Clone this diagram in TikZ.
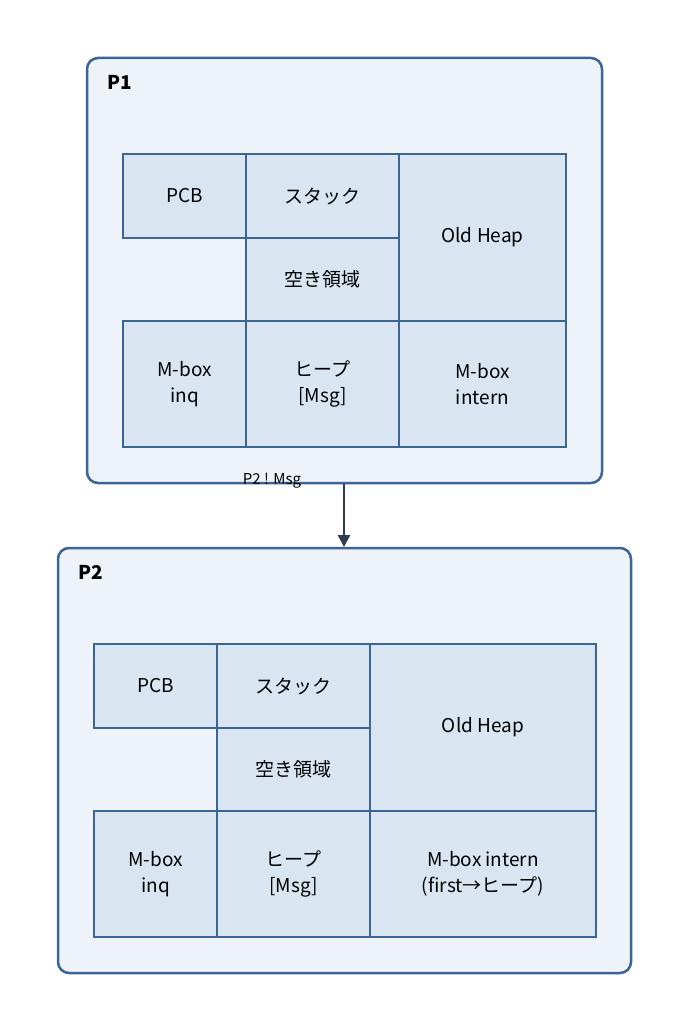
\documentclass[tikz,border=0pt]{standalone}
\usepackage{fontspec}
\setmainfont{Noto Sans CJK JP}
\usetikzlibrary{arrows.meta}
\definecolor{edge}{HTML}{3B6593}
\definecolor{outerfill}{HTML}{EEF3FA}
\definecolor{cellfill}{HTML}{D9E6F2}
\definecolor{arr}{HTML}{2E3B4E}
\tikzset{
 outer/.style={draw=edge,fill=outerfill,line width=2.5pt,rounded corners=11pt},
 cell/.style={draw=edge,fill=cellfill,line width=1.3pt},
 txt/.style={font=\fontsize{19}{26}\selectfont,align=center,text=black},
 ttl/.style={font=\fontsize{19}{22}\selectfont\bfseries,anchor=west}
}
\begin{document}
\begin{tikzpicture}[x=1pt,y=-1pt]
\useasboundingbox (0,0) rectangle (689,1032);
% P1
\draw[outer] (87,58) rectangle (602,483);
\node[ttl] (t1) at (104,82) {P1};
\def\cellbox#1#2#3#4#5#6{\draw[cell] (#2,#3) rectangle (#4,#5); \node[txt] (#1) at ({(#2+#4)/2},{(#3+#5)/2}) {#6};}
\cellbox{a1}{123}{154}{246}{238}{PCB}
\cellbox{a2}{246}{154}{399}{238}{スタック}
\cellbox{a3}{246}{238}{399}{321}{空き領域}
\cellbox{a4}{399}{154}{566}{321}{Old Heap}
\cellbox{a5}{123}{321}{246}{447}{M-box\\inq}
\cellbox{a6}{246}{321}{399}{447}{ヒープ\\{[Msg]}}
\cellbox{a7}{399}{321}{566}{447}{M-box\\intern}
% P2
\draw[outer] (58,548) rectangle (631,973);
\node[ttl] (t2) at (75,572) {P2};
\cellbox{b1}{94}{644}{217}{728}{PCB}
\cellbox{b2}{217}{644}{370}{728}{スタック}
\cellbox{b3}{217}{728}{370}{811}{空き領域}
\cellbox{b4}{370}{644}{596}{811}{Old Heap}
\cellbox{b5}{94}{811}{217}{937}{M-box\\inq}
\cellbox{b6}{217}{811}{370}{937}{ヒープ\\{[Msg]}}
\cellbox{b7}{370}{811}{596}{937}{M-box intern\\(first→ヒープ)}
\coordinate (s) at (344,484);
\coordinate (e) at (344,547);
\draw[arr,line width=2.5pt,-{Triangle[length=12pt,width=12pt]}] (s) -- (e);
\node[font=\fontsize{15}{18}\selectfont] (lab) at (272,481) {P2 ! Msg};
\end{tikzpicture}
\end{document}
